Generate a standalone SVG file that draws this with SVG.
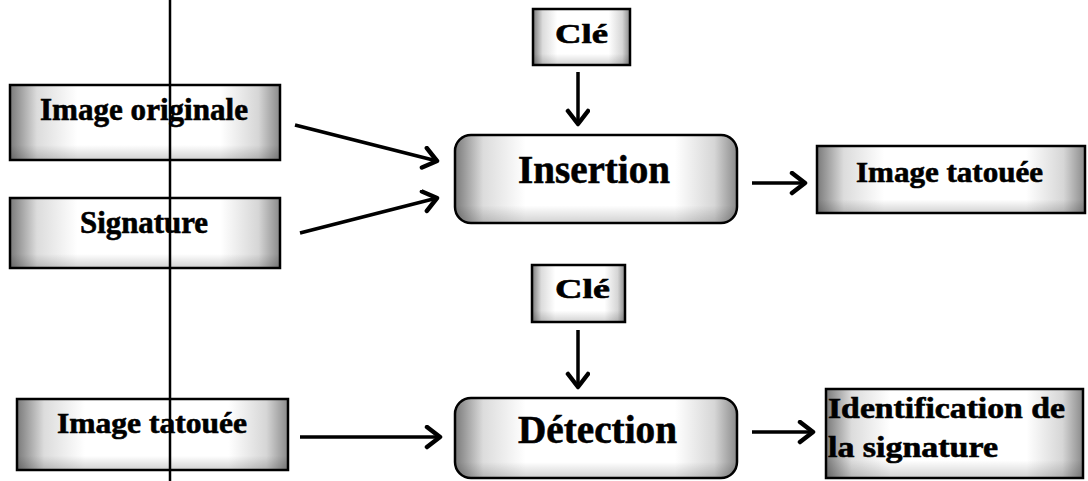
<svg xmlns="http://www.w3.org/2000/svg" width="1088" height="481" viewBox="0 0 1088 481">
<defs>
<linearGradient id="gh" x1="0" y1="0" x2="1" y2="0">
<stop offset="0" stop-color="#7a7a7a"/>
<stop offset="0.1" stop-color="#dcdcdc"/>
<stop offset="0.25" stop-color="#ffffff"/>
<stop offset="0.78" stop-color="#ffffff"/>
<stop offset="0.92" stop-color="#d6d6d6"/>
<stop offset="1" stop-color="#8a8a8a"/>
</linearGradient>
<linearGradient id="gv" x1="0" y1="0" x2="0" y2="1">
<stop offset="0" stop-color="#000" stop-opacity="0"/>
<stop offset="0.8" stop-color="#000" stop-opacity="0"/>
<stop offset="1" stop-color="#000" stop-opacity="0.18"/>
</linearGradient>
<marker id="ah" markerUnits="userSpaceOnUse" markerWidth="24" markerHeight="26" refX="16" refY="12" orient="auto">
<path d="M3,2 L16,12 L3,22" fill="none" stroke="#000" stroke-width="4.5" stroke-linecap="round" stroke-linejoin="round"/>
</marker>
<style>
.box{fill:url(#gh);stroke:#000;stroke-width:2.5}
.shade{fill:url(#gv);stroke:none}
.t{font-family:"Liberation Serif","Times New Roman",serif;font-weight:bold;fill:#000;stroke:#000;stroke-width:0.6}
.c{stroke:#000;stroke-width:3.5;fill:none;marker-end:url(#ah)}
</style>
</defs>
<rect width="1088" height="481" fill="#fff"/>

<g id="n-image-originale">
<rect class="box" x="10" y="85" width="270" height="75"/>
<rect class="shade" x="10" y="85" width="270" height="75"/>
<text class="t" x="40" y="120" font-size="31" textLength="208" lengthAdjust="spacingAndGlyphs">Image originale</text>
</g>
<g id="n-signature">
<rect class="box" x="10" y="198" width="270" height="70"/>
<rect class="shade" x="10" y="198" width="270" height="70"/>
<text class="t" x="80" y="233" font-size="31" textLength="128" lengthAdjust="spacingAndGlyphs">Signature</text>
</g>
<g id="n-cle1">
<rect class="box" x="533" y="9" width="97" height="56"/>
<rect class="shade" x="533" y="9" width="97" height="56"/>
<text class="t" x="555" y="43" font-size="27" textLength="53" lengthAdjust="spacingAndGlyphs">Clé</text>
</g>
<g id="n-insertion">
<rect class="box" x="455" y="135" width="282" height="88" rx="16"/>
<rect class="shade" x="455" y="135" width="282" height="88" rx="16"/>
<text class="t" x="518" y="183" font-size="40" textLength="152" lengthAdjust="spacingAndGlyphs">Insertion</text>
</g>
<g id="n-image-tatouee1">
<rect class="box" x="817" y="146" width="268" height="67"/>
<rect class="shade" x="817" y="146" width="268" height="67"/>
<text class="t" x="856" y="182" font-size="29" textLength="187" lengthAdjust="spacingAndGlyphs">Image tatouée</text>
</g>
<g id="n-cle2">
<rect class="box" x="532" y="265" width="93" height="57"/>
<rect class="shade" x="532" y="265" width="93" height="57"/>
<text class="t" x="555" y="298" font-size="27" textLength="55" lengthAdjust="spacingAndGlyphs">Clé</text>
</g>
<g id="n-image-tatouee2">
<rect class="box" x="17" y="399" width="271" height="71"/>
<rect class="shade" x="17" y="399" width="271" height="71"/>
<text class="t" x="57" y="433" font-size="29" textLength="190" lengthAdjust="spacingAndGlyphs">Image tatouée</text>
</g>
<g id="n-detection">
<rect class="box" x="455" y="398" width="282" height="80" rx="16"/>
<rect class="shade" x="455" y="398" width="282" height="80" rx="16"/>
<text class="t" x="518" y="443" font-size="40" textLength="159" lengthAdjust="spacingAndGlyphs">Détection</text>
</g>
<g id="n-identification">
<rect class="box" x="826" y="389" width="257" height="89"/>
<rect class="shade" x="826" y="389" width="257" height="89"/>
<text class="t" x="828" y="418" font-size="29" textLength="237" lengthAdjust="spacingAndGlyphs">Identification de</text>
<text class="t" x="828" y="457" font-size="29" textLength="170" lengthAdjust="spacingAndGlyphs">la signature</text>
</g>

<g id="connectors">
<line class="c" x1="295" y1="125" x2="437" y2="161"/>
<line class="c" x1="300" y1="233" x2="437" y2="198"/>
<line class="c" x1="578" y1="72" x2="578" y2="124"/>
<line class="c" x1="752" y1="183" x2="805" y2="183"/>
<line class="c" x1="578" y1="330" x2="578" y2="387"/>
<line class="c" x1="300" y1="437" x2="440" y2="437"/>
<line class="c" x1="752" y1="432" x2="813" y2="432"/>
</g>

<line id="vline" x1="170" y1="0" x2="170" y2="481" stroke="#000" stroke-width="2.5"/>
</svg>
